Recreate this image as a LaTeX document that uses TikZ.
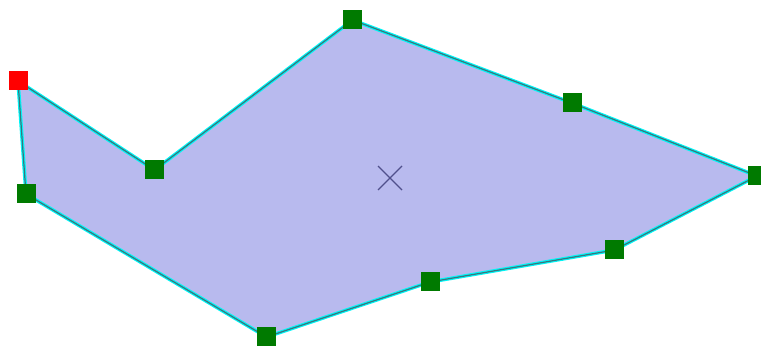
\documentclass[tikz,border=0pt]{standalone}
\usetikzlibrary{calc}
\begin{document}
\begin{tikzpicture}[x=1pt,y=-1pt,
  vert/.style={fill=vgreen,draw=none,minimum size=19pt,inner sep=0pt,outer sep=0pt,rectangle},
  first/.style={vert,fill=red}]
\definecolor{vgreen}{RGB}{0,122,0}
\definecolor{polyfill}{RGB}{184,186,238}
\definecolor{edgecyan}{RGB}{0,245,245}
\definecolor{edgedark}{RGB}{60,115,125}
\definecolor{crossc}{RGB}{80,80,140}
\useasboundingbox (0,0) rectangle (761,347);
\coordinate (p0) at (18,81);
\coordinate (p1) at (154.5,170);
\coordinate (p2) at (352.5,20);
\coordinate (p3) at (572,103);
\coordinate (p4) at (757,176);
\coordinate (p5) at (614.5,250);
\coordinate (p6) at (430,282);
\coordinate (p7) at (266.5,337);
\coordinate (p8) at (26,194);
\fill[polyfill] (p0)--(p1)--(p2)--(p3)--(p4)--(p5)--(p6)--(p7)--(p8)--cycle;
\draw[edgecyan,line width=3.5pt,line join=round,shift={(1,1)}] (p0)--(p1)--(p2)--(p3)--(p4)--(p5)--(p6)--(p7)--(p8)--cycle;
\draw[edgedark,line width=1.2pt,line join=round] (p0)--(p1)--(p2)--(p3)--(p4)--(p5)--(p6)--(p7)--(p8)--cycle;
\coordinate (c) at (390,178);
\draw[crossc,line width=1.3pt] ($(c)+(-12,-12)$)--($(c)+(12,12)$);
\draw[crossc,line width=1.3pt] ($(c)+(-12,12)$)--($(c)+(12,-12)$);
\node[first] (v0) at (p0) {};
\node[vert] (v1) at (p1) {};
\node[vert] (v2) at (p2) {};
\node[vert] (v3) at (p3) {};
\node[vert] (v4) at (p4) {};
\node[vert] (v5) at (p5) {};
\node[vert] (v6) at (p6) {};
\node[vert] (v7) at (p7) {};
\node[vert] (v8) at (p8) {};
\end{tikzpicture}
\end{document}
